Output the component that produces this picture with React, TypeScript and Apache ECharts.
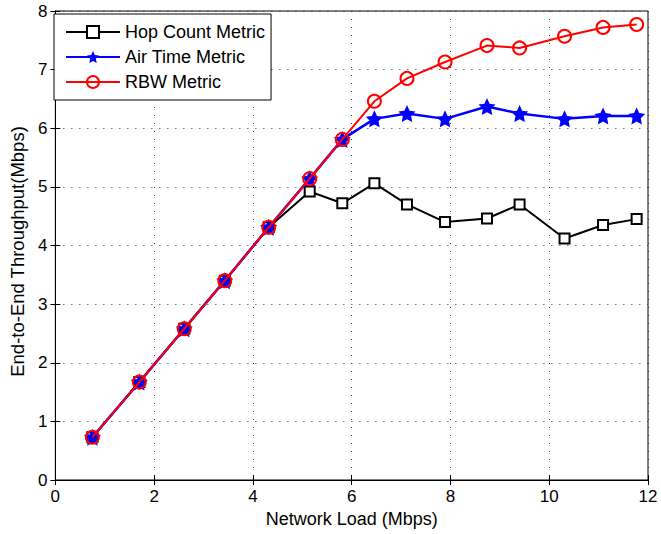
import React, { useEffect, useRef } from "react";
import * as echarts from "echarts";

const loads = [0.75, 1.7, 2.61, 3.43, 4.32, 5.15, 5.81, 6.46, 7.12, 7.89, 8.74, 9.4, 10.31, 11.09, 11.77];
const hopCount = [0.73, 1.67, 2.58, 3.4, 4.31, 4.92, 4.72, 5.06, 4.7, 4.4, 4.46, 4.7, 4.12, 4.35, 4.45];
const airTime = [0.73, 1.67, 2.58, 3.4, 4.31, 5.14, 5.81, 6.16, 6.25, 6.16, 6.37, 6.25, 6.16, 6.21, 6.21];
const rbw = [0.73, 1.67, 2.58, 3.4, 4.31, 5.14, 5.81, 6.46, 6.85, 7.13, 7.41, 7.37, 7.57, 7.72, 7.77];
const seriesNames = ["Hop Count Metric", "Air Time Metric", "RBW Metric"];
const xTicks = [0, 12, 2];
const yTicks = [0, 8, 1];

const STAR =
  "path://M0,-10L2.9,-4L9.51,-3.09L4.6,1.5L5.88,8.09L0,5L-5.88,8.09L-4.6,1.5L-9.51,-3.09L-2.9,-4Z";

const FONT = "'Liberation Sans', Arial, sans-serif";

export default function App() {
  const ref = useRef<HTMLDivElement>(null);
  useEffect(() => {
    if (!ref.current) return;
    const chart = echarts.init(ref.current, null, { renderer: "svg" });
    const pairs = (ys: number[]) => loads.map((x, i) => [x, ys[i]]);
    const gridLine = { show: true, lineStyle: { color: "#333", type: [1, 7] as any, width: 1 } };
    chart.setOption({
      animation: false,
      backgroundColor: "#fff",
      textStyle: { fontFamily: FONT },
      grid: { left: 54, right: 13, top: 11, bottom: 54, show: true, borderColor: "#000", borderWidth: 1 },
      legend: {
        orient: "vertical",
        left: 54,
        top: 14,
        padding: [9, 6, 9, 11],
        itemWidth: 54,
        itemHeight: 15,
        itemGap: 7,
        backgroundColor: "#fff",
        borderColor: "#000",
        borderWidth: 1,
        textStyle: { fontSize: 18, color: "#000", fontFamily: FONT },
        data: seriesNames,
      },
      xAxis: [
        {
          type: "value",
          min: xTicks[0],
          max: xTicks[1],
          interval: xTicks[2],
          name: "Network Load (Mbps)",
          nameLocation: "middle",
          nameGap: 30,
          nameTextStyle: { fontSize: 18, color: "#000", fontFamily: FONT },
          axisLine: { show: true, onZero: false, lineStyle: { color: "#000" } },
          axisTick: { show: true, inside: true, length: 5, lineStyle: { color: "#000" } },
          axisLabel: { fontSize: 17, color: "#000", margin: 8, fontFamily: FONT },
          splitLine: gridLine,
        },
        {
          type: "value",
          position: "top",
          min: xTicks[0],
          max: xTicks[1],
          interval: xTicks[2],
          axisLine: { show: true, lineStyle: { color: "#000" } },
          axisTick: { show: true, inside: true, length: 5, lineStyle: { color: "#000" } },
          axisLabel: { show: false },
          splitLine: { show: false },
        },
      ],
      yAxis: [
        {
          type: "value",
          min: yTicks[0],
          max: yTicks[1],
          interval: yTicks[2],
          name: "End-to-End Throughput(Mbps)",
          nameLocation: "middle",
          nameGap: 25,
          nameTextStyle: { fontSize: 18.5, color: "#000", fontFamily: FONT, padding: [0, 12, 0, 0] },
          axisLine: { show: true, onZero: false, lineStyle: { color: "#000" } },
          axisTick: { show: true, inside: true, length: 5, lineStyle: { color: "#000" } },
          axisLabel: { fontSize: 17, color: "#000", margin: 8, fontFamily: FONT },
          splitLine: gridLine,
        },
        {
          type: "value",
          position: "right",
          min: yTicks[0],
          max: yTicks[1],
          interval: yTicks[2],
          axisLine: { show: true, lineStyle: { color: "#000" } },
          axisTick: { show: true, inside: true, length: 5, lineStyle: { color: "#000" } },
          axisLabel: { show: false },
          splitLine: { show: false },
        },
      ],
      series: [
        {
          name: seriesNames[0],
          type: "line",
          data: pairs(hopCount),
          symbol: "rect",
          symbolSize: 10,
          lineStyle: { color: "#000", width: 2 },
          itemStyle: { color: "#fff", borderColor: "#000", borderWidth: 2 },
          z: 2,
        },
        {
          name: seriesNames[1],
          type: "line",
          data: pairs(airTime),
          symbol: STAR,
          symbolSize: 17,
          lineStyle: { color: "#0000ff", width: 2.5 },
          itemStyle: { color: "#0000ff", borderColor: "#0000ff", borderWidth: 0 },
          z: 3,
        },
        {
          name: seriesNames[2],
          type: "line",
          data: pairs(rbw),
          symbol: "circle",
          symbolSize: 13,
          lineStyle: { color: "#ff0000", width: 2 },
          itemStyle: { color: "rgba(255,255,255,0)", borderColor: "#ff0000", borderWidth: 2 },
          z: 4,
        },
      ],
    });
    return () => chart.dispose();
  }, []);
  return <div ref={ref} style={{ width: 661, height: 534, position: "absolute", left: 0, top: 0 }} />;
}
